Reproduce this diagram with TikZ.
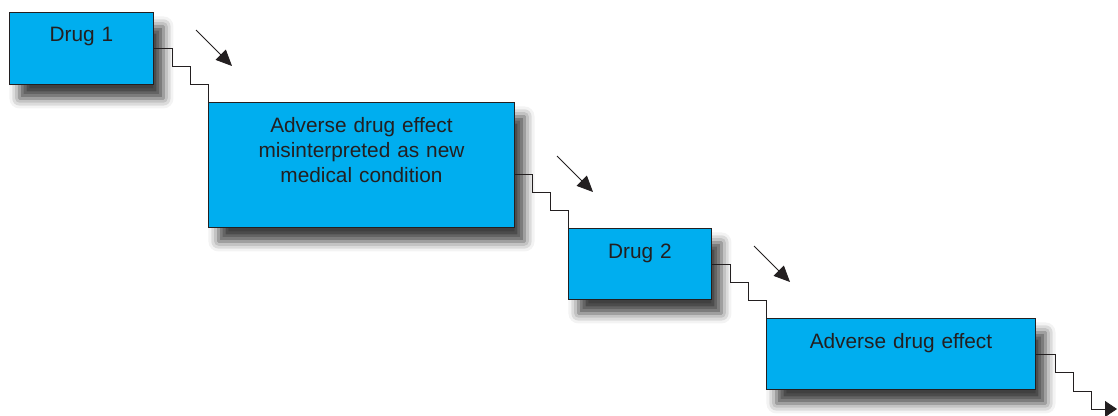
\documentclass[tikz,border=0pt]{standalone}
\usepackage{fontspec}
\setmainfont{Liberation Sans}
\usetikzlibrary{arrows.meta,shadows.blur}
\definecolor{boxcyan}{HTML}{00AEEF}
\definecolor{inkgray}{HTML}{231F20}
\begin{document}
\begin{tikzpicture}[
  x=0.025cm, y=-0.025cm,
  every node/.style={rectangle, draw=inkgray, line width=0.6pt, fill=boxcyan,
    text=inkgray, inner sep=0pt, align=center, anchor=north west,
    text height=0.75cm, font=\fontsize{14.8pt}{17.8pt}\selectfont,
    blur shadow={shadow xshift=0.25cm, shadow yshift=-0.35cm,
      shadow blur radius=0.25cm, shadow opacity=75}},
  stair/.style={draw=inkgray, line width=0.6pt},
  cue/.style={draw=inkgray, line width=0.6pt, -{Triangle[length=0.4cm,width=0.36cm]}}
]
\useasboundingbox (0,0) rectangle (1118,415);
\node (drugone) at (9,12) [text width=3.6cm, text height=0.725cm, text depth=1.075cm] {Drug 1};
\node (adverse) at (208,102) [text width=7.65cm, text depth=2.375cm]
  {Adverse drug effect\\ misinterpreted as new\\ medical condition};
\node (drugtwo) at (568,228) [text width=3.575cm, text depth=1.025cm] {Drug 2};
\node (effect) at (766,318) [text width=6.725cm, text depth=1.025cm] {Adverse drug effect};
% steps down to the next box
\foreach \a/\b in {drugone/adverse, adverse/drugtwo, drugtwo/effect}
  \draw[stair] (\b.north west) -- ++(0,-18) -- ++(-18,0) -- ++(0,-18) -- ++(-18,0)
    -- ++(0,-18) coordinate (top) -- (top -| \a.east);
\coordinate (exit) at (1117,409);
\draw[stair, -{Triangle[length=0.3cm,width=0.4cm]}] (effect.east) -- ++(19,0) -- ++(0,18)
  -- ++(18,0) -- ++(0,19) -- ++(18,0) |- (exit);
% arrows between the boxes
\foreach \x/\y in {196/30, 557/156, 754/246}
  \draw[cue] (\x,\y) -- ++(36,36);
\end{tikzpicture}
\end{document}
